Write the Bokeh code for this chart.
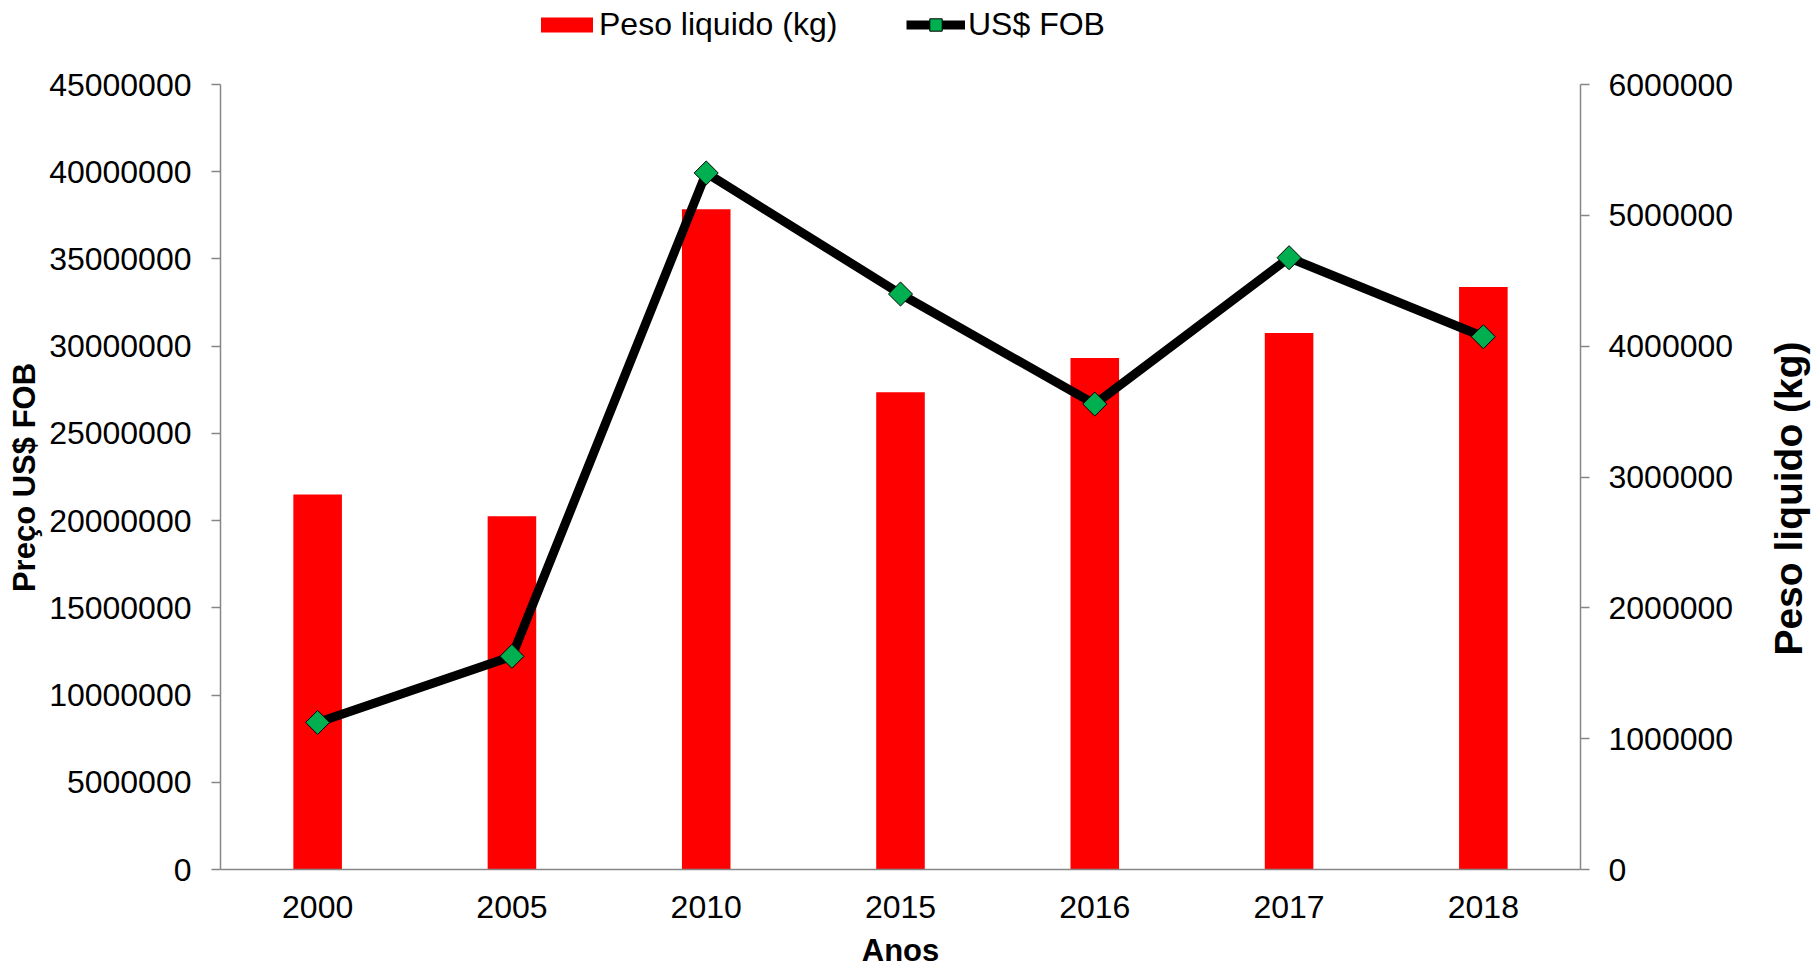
import math
from bokeh.plotting import figure
from bokeh.models import (Range1d, LinearAxis, FixedTicker, BasicTickFormatter,
                          Legend, LegendItem, FactorRange, Label)
from bokeh.embed import file_html
from bokeh.resources import INLINE

# ---- data ----
years = ["2000", "2005", "2010", "2015", "2016", "2017", "2018"]
peso_kg = [2866000, 2700000, 5047000, 3647000, 3909000, 4100000, 4452000]
fob_usd = [8430000, 12220000, 39930000, 32990000, 26680000, 35070000, 30540000]
left_ticks = [0, 5000000, 10000000, 15000000, 20000000, 25000000,
              30000000, 35000000, 40000000, 45000000]
right_ticks = [0, 1000000, 2000000, 3000000, 4000000, 5000000, 6000000]

FONT = "Liberation Sans"
AXIS_GREY = "#868686"

# layout (pixels)
FRAME_W = 1360
FRAME_H = 869          # frame reaches the top of the canvas (legend lives inside it)
AXIS_SPAN = 785        # pixel length of the visible y axes (0 .. max tick)
scale_up = FRAME_H / AXIS_SPAN

p = figure(x_range=FactorRange(*years),
           y_range=Range1d(0, left_ticks[-1] * scale_up),
           frame_width=FRAME_W, frame_height=FRAME_H,
           min_border_left=220, min_border_right=235,
           min_border_top=0, min_border_bottom=98,
           output_backend="svg", toolbar_location=None,
           background_fill_color="white", border_fill_color="white")
p.outline_line_color = None
p.grid.visible = False
p.extra_y_ranges = {"peso": Range1d(0, right_ticks[-1] * scale_up)}

bars = p.vbar(x=years, top=peso_kg, width=0.25, y_range_name="peso",
              fill_color="#FF0000", line_color=None)
line = p.line(x=years, y=fob_usd, line_color="black", line_width=9,
              line_join="round")
pts = p.scatter(x=years, y=fob_usd, marker="square", angle=math.pi / 4,
                size=17, fill_color="#00B050", line_color="black", line_width=1)

# x axis
xa = p.xaxis[0]
xa.axis_line_color = AXIS_GREY
xa.axis_line_width = 1.5
xa.major_tick_line_color = None
xa.major_tick_out = 0
xa.major_tick_in = 0
xa.minor_tick_line_color = None
xa.major_label_text_font = FONT
xa.major_label_text_font_size = "32px"
xa.major_label_text_color = "black"
xa.major_label_standoff = 26
xa.axis_label = "Anos"
xa.axis_label_text_font = FONT
xa.axis_label_text_font_size = "31px"
xa.axis_label_text_font_style = "bold"
xa.axis_label_text_color = "black"
xa.axis_label_standoff = 12

# left axis
ya = p.yaxis[0]
ya.bounds = (left_ticks[0], left_ticks[-1])
ya.ticker = FixedTicker(ticks=left_ticks)
ya.formatter = BasicTickFormatter(use_scientific=False)
ya.axis_line_color = AXIS_GREY
ya.axis_line_width = 1.5
ya.major_tick_line_color = AXIS_GREY
ya.major_tick_line_width = 1.5
ya.major_tick_out = 9
ya.major_tick_in = 0
ya.minor_tick_line_color = None
ya.major_label_text_font = FONT
ya.major_label_text_font_size = "32px"
ya.major_label_text_color = "black"
ya.major_label_standoff = 20

# right axis
ra = LinearAxis(y_range_name="peso", ticker=FixedTicker(ticks=right_ticks),
                formatter=BasicTickFormatter(use_scientific=False),
                bounds=(right_ticks[0], right_ticks[-1]))
ra.axis_line_color = AXIS_GREY
ra.axis_line_width = 1.5
ra.major_tick_line_color = AXIS_GREY
ra.major_tick_line_width = 1.5
ra.major_tick_out = 9
ra.major_tick_in = 0
ra.minor_tick_line_color = None
ra.major_label_text_font = FONT
ra.major_label_text_font_size = "32px"
ra.major_label_text_color = "black"
ra.major_label_standoff = 19
p.add_layout(ra, "right")

# axis titles as labels in the side panels (reading bottom-to-top)
t_left = Label(x=13, y=392, x_units="screen", y_units="screen",
               text="Preço US$ FOB", angle=math.pi / 2, text_align="center",
               text_baseline="alphabetic", text_font=FONT,
               text_font_size="31px", text_font_style="bold", text_color="black")
t_right = Label(x=52, y=371, x_units="screen", y_units="screen",
                text="Peso liquido (kg)", angle=math.pi / 2, text_align="center",
                text_baseline="alphabetic", text_font=FONT,
                text_font_size="39px", text_font_style="bold", text_color="black")
p.add_layout(t_left, "left")
p.add_layout(t_right, "right")

# legends (inside the frame, at its top)
common = dict(orientation="horizontal", padding=0, margin=0, spacing=0,
              border_line_color=None, background_fill_alpha=0,
              label_text_font=FONT, label_text_font_size="32px",
              label_text_color="black")
leg1 = Legend(items=[LegendItem(label="Peso liquido (kg)", renderers=[bars])],
              location=(314, 826), glyph_width=65, glyph_height=19,
              label_standoff=0, **common)
leg2 = Legend(items=[LegendItem(label="US$ FOB", renderers=[line, pts])],
              location=(686, 826), glyph_width=59, glyph_height=31,
              label_standoff=3, **common)
p.add_layout(leg1, "center")
p.add_layout(leg2, "center")

open("out.html", "w").write(file_html(p, INLINE))
